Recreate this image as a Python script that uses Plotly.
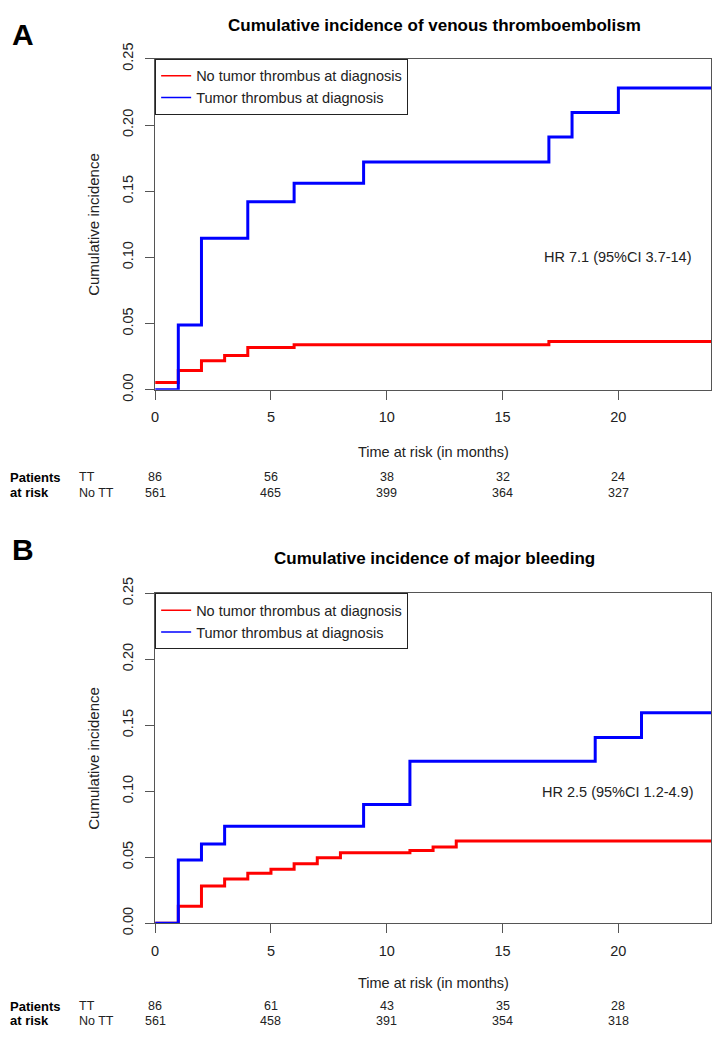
import plotly.graph_objects as go

# ---- data ----
months = [0, 5, 10, 15, 20]

# panel A: venous thromboembolism (step functions: event time, cumulative incidence)
vte_tt_t = [0, 1, 2, 4, 6, 9, 17, 18, 20, 24]
vte_tt_y = [0.0, 0.049, 0.1145, 0.142, 0.156, 0.172, 0.191, 0.2095, 0.228, 0.228]
vte_nott_t = [0, 1, 2, 3, 4, 6, 17, 24]
vte_nott_y = [0.0055, 0.0145, 0.022, 0.026, 0.032, 0.034, 0.0365, 0.0365]

# panel B: major bleeding
mb_tt_t = [0, 1, 2, 3, 9, 11, 19, 21, 24]
mb_tt_y = [0.0, 0.048, 0.060, 0.0735, 0.090, 0.1227, 0.1408, 0.1595, 0.1595]
mb_nott_t = [0, 1, 2, 3, 4, 5, 6, 7, 8, 11, 12, 13, 24]
mb_nott_y = [0.0, 0.0128, 0.0282, 0.0336, 0.0378, 0.041, 0.045, 0.0496, 0.0535,
             0.0552, 0.0577, 0.0623, 0.0623]

risk_vte_tt = [86, 56, 38, 32, 24]
risk_vte_nott = [561, 465, 399, 364, 327]
risk_mb_tt = [86, 61, 43, 35, 28]
risk_mb_nott = [561, 458, 391, 354, 318]

W, H = 714, 1055
RED = "#ff0000"
BLUE = "#0000ff"
FONT = "Liberation Sans, Arial, sans-serif"
AXCOL = "#555555"
TXT = "#222222"


def py(p):
    # page pixel row -> paper y
    return 1 - p / H


def px_(p):
    return p / W


fig = go.Figure()

panels = [
    dict(xa="x", ya="y", leg="legend",
         tt=(vte_tt_t, vte_tt_y), nott=(vte_nott_t, vte_nott_y)),
    dict(xa="x2", ya="y2", leg="legend2",
         tt=(mb_tt_t, mb_tt_y), nott=(mb_nott_t, mb_nott_y)),
]

for p in panels:
    # curves
    fig.add_trace(go.Scatter(
        x=p["nott"][0], y=p["nott"][1], mode="lines", line_shape="hv",
        line=dict(color=RED, width=3), showlegend=False,
        xaxis=p["xa"], yaxis=p["ya"], hoverinfo="x+y"))
    fig.add_trace(go.Scatter(
        x=p["tt"][0], y=p["tt"][1], mode="lines", line_shape="hv",
        line=dict(color=BLUE, width=3), showlegend=False,
        xaxis=p["xa"], yaxis=p["ya"], hoverinfo="x+y"))
    # thin legend keys, as in the R legend
    for name, col in [("No tumor thrombus at diagnosis", RED),
                      ("Tumor thrombus at diagnosis", BLUE)]:
        fig.add_trace(go.Scatter(
            x=[None], y=[None], mode="lines", line=dict(color=col, width=1.5),
            name=name, xaxis=p["xa"], yaxis=p["ya"], legend=p["leg"]))

# box geometry in page pixels (left, right, top, bottom)
box_a = (152, 711, 44, 384)
box_b = (152, 711, 593, 932)

xaxis_style = dict(range=[0, 24], tickvals=months, ticks="outside", ticklen=9,
                   tickwidth=1, tickcolor=AXCOL, showline=True, linecolor=AXCOL,
                   linewidth=1.3, mirror=True, showgrid=False, zeroline=False,
                   ticklabelstandoff=5,
                   tickfont=dict(family=FONT, size=14.5, color=TXT))
yaxis_style = dict(range=[0, 0.25], tickvals=[0, 0.05, 0.10, 0.15, 0.20, 0.25],
                   ticktext=["0.00", "0.05", "0.10", "0.15", "0.20", "0.25"],
                   tickangle=-90, ticks="outside", ticklen=9, tickwidth=1,
                   tickcolor=AXCOL, showline=True, linecolor=AXCOL, linewidth=1.3,
                   mirror=True, showgrid=False, zeroline=False,
                   ticklabelstandoff=6,
                   tickfont=dict(family=FONT, size=14.5, color=TXT))

fig.update_layout(
    xaxis=dict(domain=[px_(box_a[0]), px_(box_a[1])], anchor="y", **xaxis_style),
    yaxis=dict(domain=[py(box_a[3]), py(box_a[2])], anchor="x", **yaxis_style),
    xaxis2=dict(domain=[px_(box_b[0]), px_(box_b[1])], anchor="y2", **xaxis_style),
    yaxis2=dict(domain=[py(box_b[3]), py(box_b[2])], anchor="x2", **yaxis_style),
)

legend_style = dict(xanchor="left", yanchor="top", bgcolor="white",
                    bordercolor=TXT, borderwidth=1,
                    font=dict(family=FONT, size=14.5, color=TXT),
                    tracegroupgap=0, itemclick=False)
fig.update_layout(
    legend=dict(x=px_(box_a[0]), y=py(box_a[2]), **legend_style),
    legend2=dict(x=px_(box_b[0]), y=py(box_b[2]), **legend_style),
)

ann = []


def text(x, y, s, size=14.5, bold=False, xanchor="center", xref="paper",
         angle=0, color=TXT):
    ann.append(dict(x=x, y=y, xref=xref, yref="paper", text=f"<b>{s}</b>" if bold else s,
                    showarrow=False, xanchor=xanchor, yanchor="middle",
                    textangle=angle, font=dict(family=FONT, size=size, color=color)))


# panel letters and titles
text(px_(19), py(19), "A", size=30, bold=True, color="black")
text(px_(19), py(548), "B", size=30, bold=True, color="black")
text(px_(433), py(10), "Cumulative incidence of venous thromboembolism", size=17,
     bold=True, color="black")
text(px_(433), py(557), "Cumulative incidence of major bleeding", size=17,
     bold=True, color="black")

# axis titles
for box, xtitle_y in [(box_a, 448), (box_b, 993)]:
    text(px_(90), py((box[2] + box[3]) / 2), "Cumulative incidence", size=15, angle=-90)
    text(px_(432), py(xtitle_y), "Time at risk (in months)")

# hazard ratios
text(px_(617), py(248), "HR 7.1 (95%CI 3.7-14)")
text(px_(617), py(797), "HR 2.5 (95%CI 1.2-4.9)")

# numbers at risk
tables = [("x", 474, 490, risk_vte_tt, risk_vte_nott),
          ("x2", 1017, 1032, risk_mb_tt, risk_mb_nott)]
for xr, y_tt, y_no, tt, no in tables:
    text(px_(4), py(y_tt), "Patients", size=13, bold=True, xanchor="left", color="black")
    text(px_(4), py(y_no), "at risk", size=13, bold=True, xanchor="left", color="black")
    text(px_(73), py(y_tt), "TT", size=12.5, xanchor="left")
    text(px_(73), py(y_no), "No TT", size=12.5, xanchor="left")
    for m, a, b in zip(months, tt, no):
        text(m, py(y_tt), str(a), size=12.5, xref=xr)
        text(m, py(y_no), str(b), size=12.5, xref=xr)

fig.update_layout(
    annotations=ann,
    width=W, height=H,
    margin=dict(l=0, r=0, t=0, b=0),
    plot_bgcolor="white", paper_bgcolor="white",
    font=dict(family=FONT),
)

# drop the browser's default 8px body margin so the figure sits at the page origin
fig.write_html("out.html", config={"displayModeBar": False},
               post_script="document.body.style.margin = '0';")
